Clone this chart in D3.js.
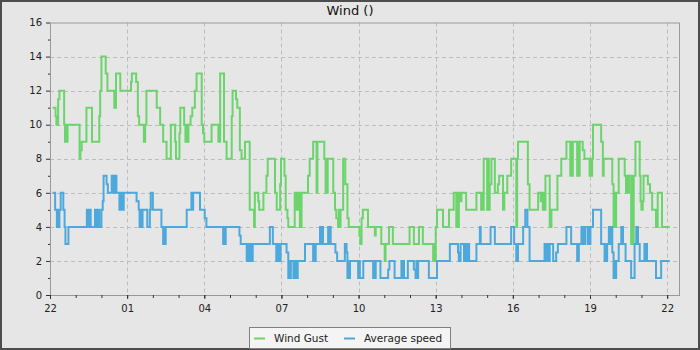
<!DOCTYPE html>
<html>
<head>
<meta charset="utf-8">
<script src="https://cdn.jsdelivr.net/npm/d3@7"></script>
<style>
  html, body { margin: 0; padding: 0; background: #e6e6e6; }
  svg { display: block; font-family: "DejaVu Sans", sans-serif; }
</style>
</head>
<body>
<svg id="chart" width="700" height="350"></svg>
<script>
// Wind record: minutes after 22:00 where the reading changes, and the new value.
const gustMinutes = [6,13,15,19,22,33,35,37,39,41,69,71,74,85,98,115,117,120,130,134,150,154,164,189,191,201,205,208,219,222,225,249,257,264,272,282,292,294,302,304,313,316,318,320,323,328,332,338,342,354,357,360,377,393,397,406,412,424,426,434,437,443,447,455,466,476,478,486,488,498,505,508,525,529,537,539,547,550,554,556,571,575,579,583,587,602,606,614,622,624,640,643,645,646,648,661,665,668,672,674,676,678,684,689,694,697,722,724,727,730,742,758,760,773,781,783,791,800,839,849,861,870,894,896,898,900,903,917,931,942,948,950,952,954,956,960,971,995,1006,1008,1010,1012,1020,1022,1024,1026,1030,1038,1045,1048,1057,1060,1067,1076,1088,1090,1092,1115,1119,1139,1145,1148,1150,1152,1154,1156,1166,1170,1184,1193,1205,1214,1216,1218,1220,1230,1232,1234,1236,1243,1247,1259,1261,1263,1265,1267,1286,1290,1292,1312,1315,1317,1319,1321,1327,1341,1344,1346,1348,1351,1356,1358,1360,1362,1366,1376,1378,1380,1383,1385,1395,1400,1405,1414,1418,1428,1446];
const gustValues = [11,10.5,10,11.5,12,10,9,10,9,10,8,8.5,9,11,9,10.5,12,14,13,12,11,13,12,12.5,13,12.5,10.5,10,9,10,12,11,10,9,8,10,9,8,9.5,11,10,9,10,9,10,10.5,11,12,13,10,9.5,9,10,9,13,9,8,10.5,12,11.5,11,8.5,8,9,5,4,6,5.5,5,6,7,8,6,5,6.5,8,7,5,4.5,4,6,5,6,4,6,7,8,9,6,9,8,6,8,6,8,6,5,4.5,4,5,4,5,8,6.5,4.5,4,3.5,3,4.5,5,4,3.5,4,3,2,3,4,3,4,3,4,3,2,3,2,4,5,4,5,6,4,6,4,6,5.5,6,5,6,5,6,5,8,5,8,5,6.5,8,6,6.5,7,5,6,7,8,4,8,9,6.5,5,6,5.5,6,5,6,5,7,4,5,7,8,9,7,9,7,9,7,9,7,9,8.5,8,7,8,7,8,10,9,7,8,6.5,4,6,4,6,8,7,6,7,6,7,3,7,3,7,9,7,5.5,5,5.5,7,6.5,6,5,4,6,4,4];

const speedMinutes = [6,12,16,18,20,22,25,31,34,36,43,86,88,90,92,94,95,105,107,109,111,113,115,120,123,125,132,135,144,146,148,150,152,155,162,164,166,168,170,172,202,207,209,211,213,216,227,233,235,240,260,264,266,268,270,319,330,332,334,350,361,365,404,406,408,410,442,445,459,461,463,465,467,469,471,473,513,520,528,530,532,534,536,538,552,556,558,560,562,568,570,572,574,576,578,595,614,616,618,620,630,632,634,637,649,651,653,655,666,670,688,692,694,696,698,700,719,721,723,731,754,756,758,760,771,789,792,804,820,822,824,826,835,849,853,855,857,859,884,903,933,952,954,958,966,968,970,972,974,976,978,995,1003,1005,1028,1038,1076,1083,1088,1092,1104,1109,1114,1119,1154,1156,1158,1160,1162,1164,1166,1174,1181,1185,1205,1216,1230,1234,1240,1243,1245,1247,1249,1255,1257,1259,1261,1267,1286,1294,1296,1298,1300,1304,1306,1308,1312,1315,1317,1319,1321,1327,1333,1337,1343,1356,1364,1368,1372,1376,1387,1389,1391,1393,1414,1426,1446];
const speedValues = [6,5,4,5,4,5,6,5,4,3,4,5,4,5,4,5,4,5,4,5,4,5,4,5,5.5,7,6.5,6,7,6,7,6,7,6,5,6,5,6,5,6,5.5,5,4,5,4,5,4,5,6,5,4,3,4,3,4,5,6,5,6,5,4.5,4,3,4,3,4,3.5,3,2,3,2,3,2,3,2,3,4,3,2,3,2,3,2,3,2.5,1,2,1,2,1,2,1,2,1,2,3,2,3,2,3,4,3,4,3,4,3,4,3,2.5,2,3,2.5,1,2,1,2,1,2,1,2,1,2,1,2,1,1.5,2,1,2,1,2,1,2,1.5,1,2,1,2,1,2,3,2.5,2,3,2,3,2,3,2,3,2,3,4,3,4,3,4,3,2,3,4,5,4,2,3,2,3,2,3,2,3,2,2.5,3,4,3,2,3,4,3,4,3,4,3,4,3,4,5,3,2,3,2,3,4,3,4,2.5,1,2,1,2,3,4,3,2,1,3,4,3,2,3,2,3,2,1,2,2];

const seriesNames = ["Wind Gust", "Average speed"];
const seriesColors = ["#6cd46c", "#4da8dc"];
const yTicks = [0, 2, 4, 6, 8, 10, 12, 14, 16];
const yMinorTicks = [1, 3, 5, 7, 9, 11, 13, 15];
const chartTitle = "Wind ()";

// Time axis: 22:00 to roughly 22:30 the following day
const start = new Date(Date.UTC(2024, 0, 1, 22, 0));
const at = m => new Date(start.getTime() + m * 60000);
const end = at(1470);

const W = 700, H = 350;
const plot = { left: 50, right: 680, top: 22.5, bottom: 295 };

const svg = d3.select("#chart");

// Canvas with dark frame
svg.append("rect")
  .attr("x", 1).attr("y", 1).attr("width", W - 2).attr("height", H - 2)
  .attr("fill", "#e6e6e6").attr("stroke", "#4d4d4d").attr("stroke-width", 2);

const x = d3.scaleUtc().domain([start, end]).range([plot.left, plot.right]);
const y = d3.scaleLinear().domain([0, 16]).range([plot.bottom, plot.top]);

// Labelled ticks every three hours from the start, plain ticks every hour
const majorHours = d3.range(0, 1441, 180).map(at);
const minorHours = d3.range(0, 1470, 60).map(at);

// Grid
const grid = svg.append("g").attr("stroke", "#bdbdbd").attr("stroke-dasharray", "4,3").attr("stroke-width", 1);
grid.selectAll(".gy").data(yTicks.filter(v => v > 0 && v < 16)).join("line")
  .attr("x1", plot.left).attr("x2", plot.right)
  .attr("y1", d => Math.round(y(d)) + 0.5).attr("y2", d => Math.round(y(d)) + 0.5);
grid.selectAll(".gx").data(majorHours.slice(1)).join("line")
  .attr("y1", plot.top).attr("y2", plot.bottom)
  .attr("x1", d => Math.round(x(d)) + 0.5).attr("x2", d => Math.round(x(d)) + 0.5);

// Step lines
function series(mins, vals) {
  return mins.map((m, i) => ({ t: at(m), v: vals[i] }));
}
const line = d3.line().curve(d3.curveStepAfter).x(d => x(d.t)).y(d => y(d.v));
const data = [series(gustMinutes, gustValues), series(speedMinutes, speedValues)];
svg.append("g").selectAll("path").data(data).join("path")
  .attr("fill", "none")
  .attr("stroke", (d, i) => seriesColors[i])
  .attr("stroke-width", 2)
  .attr("d", line);

// Plot frame
svg.append("rect")
  .attr("x", plot.left + 0.5).attr("y", plot.top + 0.5)
  .attr("width", plot.right - plot.left - 1).attr("height", plot.bottom - plot.top)
  .attr("fill", "none").attr("stroke", "#999");

// Axes
function styleAxis(g) {
  g.select(".domain").remove();
  g.selectAll(".tick line").attr("stroke", "#333");
  g.selectAll(".tick text").attr("fill", "#222").attr("font-size", 10)
    .attr("font-family", "DejaVu Sans, sans-serif");
}
svg.append("g").attr("transform", `translate(${plot.left},0)`)
  .call(d3.axisLeft(y).tickValues(yTicks).tickSize(4).tickPadding(4).tickFormat(d3.format("d")))
  .call(styleAxis);
svg.append("g").attr("transform", `translate(${plot.left},0)`)
  .call(d3.axisLeft(y).tickValues(yMinorTicks).tickSize(2).tickFormat(""))
  .call(styleAxis);
svg.append("g").attr("transform", `translate(0,${plot.bottom})`)
  .call(d3.axisBottom(x).tickValues(majorHours).tickSize(4).tickPadding(6).tickFormat(d3.utcFormat("%H")))
  .call(styleAxis);
svg.append("g").attr("transform", `translate(0,${plot.bottom})`)
  .call(d3.axisBottom(x).tickValues(minorHours).tickSize(3).tickFormat(""))
  .call(styleAxis);

// Title
svg.append("text")
  .attr("x", 350).attr("y", 15).attr("text-anchor", "middle")
  .attr("font-size", 13).attr("fill", "#111").text(chartTitle);

// Legend
const lg = svg.append("g");
lg.append("rect").attr("x", 249.5).attr("y", 327.5).attr("width", 201).attr("height", 21)
  .attr("fill", "#f4f4f4").attr("stroke", "#808080");
const items = [{ x: 254 }, { x: 344 }];
items.forEach((it, i) => {
  lg.append("line").attr("x1", it.x).attr("x2", it.x + 11)
    .attr("y1", 338.5).attr("y2", 338.5)
    .attr("stroke", seriesColors[i]).attr("stroke-width", 2);
  lg.append("text").attr("x", it.x + 20).attr("y", 342)
    .attr("font-size", 10.5).attr("fill", "#222").text(seriesNames[i]);
});
</script>
</body>
</html>
